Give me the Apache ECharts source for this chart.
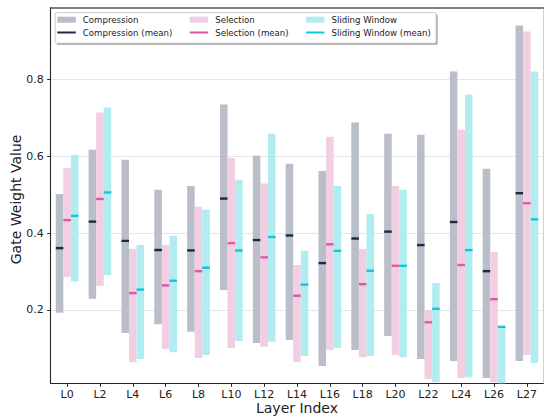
<!DOCTYPE html>
<html>
<head>
<meta charset="utf-8">
<script src="https://cdn.jsdelivr.net/npm/echarts@6/dist/echarts.min.js"></script>
<style>
html,body{margin:0;padding:0;background:#fff;}
#chart{width:545px;height:417px;}
</style>
</head>
<body>
<div id="chart"></div>
<script>
// ---- data ----
const layers = ['L0','L2','L4','L6','L8','L10','L12','L14','L16','L18','L20','L22','L24','L26','L27'];

const compMin  = [0.193,0.229,0.140,0.163,0.143,0.252,0.114,0.122,0.054,0.096,0.132,0.072,0.067,0.023,0.067];
const compMax  = [0.502,0.617,0.591,0.513,0.523,0.735,0.602,0.581,0.562,0.688,0.659,0.656,0.821,0.568,0.941];
const compMean = [0.361,0.430,0.380,0.356,0.355,0.490,0.382,0.394,0.322,0.386,0.404,0.369,0.429,0.301,0.504];

const selMin  = [0.286,0.263,0.064,0.098,0.075,0.101,0.104,0.064,0.096,0.077,0.083,0.020,0.023,0.012,0.083];
const selMax  = [0.570,0.714,0.359,0.369,0.469,0.596,0.529,0.317,0.651,0.359,0.523,0.200,0.669,0.351,0.925];
const selMean = [0.434,0.489,0.244,0.264,0.301,0.374,0.337,0.237,0.371,0.267,0.315,0.168,0.317,0.228,0.478];

const winMin  = [0.274,0.291,0.072,0.090,0.083,0.119,0.117,0.080,0.101,0.080,0.077,0.012,0.025,0.009,0.062];
const winMax  = [0.604,0.727,0.369,0.393,0.461,0.539,0.659,0.354,0.523,0.450,0.513,0.270,0.761,0.156,0.821];
const winMean = [0.445,0.506,0.253,0.276,0.310,0.355,0.390,0.266,0.354,0.302,0.315,0.203,0.356,0.156,0.436];

const yTicks = [0.2, 0.4, 0.6, 0.8];

// ---- styling ----
const FONT = 'DejaVu Sans';
const colors = {
  comp: '#babec8', compMean: '#1c2a45',
  sel: '#f2cee3', selMean: '#d95ba6',
  win: '#b1ecf0', winMean: '#18c4d9'
};

// axis range like matplotlib autoscale (sticky bar bottoms, 5% top margin)
const allLow = compMin.concat(selMin, winMin);
const allHigh = compMax.concat(selMax, winMax);
const yLo = Math.min.apply(null, allLow);
const yHiData = Math.max.apply(null, allHigh);
const yHi = yHiData + 0.05 * (yHiData - yLo);

const BAR_FRAC = 0.23;

function rangeRender(offsetIdx, color) {
  return function (params, api) {
    const i = api.value(0);
    const lo = api.coord([i, api.value(1)]);
    const hi = api.coord([i, api.value(2)]);
    const band = api.size([1, 0])[0];
    const w = band * BAR_FRAC;
    const cx = lo[0] + offsetIdx * w;
    return {
      type: 'rect',
      shape: { x: cx - w / 2, y: hi[1], width: w, height: lo[1] - hi[1] },
      style: { fill: color }
    };
  };
}
function meanRender(offsetIdx, color) {
  return function (params, api) {
    const i = api.value(0);
    const p = api.coord([i, api.value(1)]);
    const band = api.size([1, 0])[0];
    const w = band * BAR_FRAC;
    const cx = p[0] + offsetIdx * w;
    return {
      type: 'rect',
      shape: { x: cx - w / 2, y: p[1] - 1.2, width: w, height: 2.4 },
      style: { fill: color }
    };
  };
}

function rangeData(mins, maxs) { return layers.map((l, i) => [i, mins[i], maxs[i]]); }
function meanData(means) { return layers.map((l, i) => [i, means[i]]); }

const rectIcon = 'path://M0,0 L18.5,0 L18.5,6 L0,6 Z M20.5,6';
const lineIcon = 'path://M0,2 L18.5,2 L18.5,4 L0,4 Z M0,0 M20.5,6';

function legendItem(name, icon, left, top) {
  return {
    show: true, data: [{ name: name, icon: icon }],
    left: left, top: top, padding: 0, itemWidth: 20.5, itemHeight: 6,
    symbolKeepAspect: true, selectedMode: false,
    textStyle: { fontFamily: FONT, fontSize: 8.6, color: '#222', lineHeight: 11 },
    z: 20
  };
}

const rowTop1 = 14.2, rowTop2 = 27.0;
const col1 = 57.3, col2 = 189.7, col3 = 306;

const option = {
  animation: false,
  backgroundColor: '#fff',
  textStyle: { fontFamily: FONT },
  grid: { left: 50.7, right: 1.7, top: 7.5, bottom: 33.7, containLabel: false, outerBoundsMode: 'none' },
  legend: [
    legendItem('Compression', rectIcon, col1, rowTop1),
    legendItem('Compression (mean)', lineIcon, col1, rowTop2),
    legendItem('Selection', rectIcon, col2, rowTop1),
    legendItem('Selection (mean)', lineIcon, col2, rowTop2),
    legendItem('Sliding Window', rectIcon, col3, rowTop1),
    legendItem('Sliding Window (mean)', lineIcon, col3, rowTop2)
  ],
  graphic: [
    { type: 'rect', left: 56.6, top: 14.2, shape: { width: 381, height: 30.5, r: 1.5 }, style: { fill: '#9a9a9a' }, z: 10, silent: true },
    { type: 'rect', left: 54.6, top: 12.2, shape: { width: 381, height: 30.5, r: 1.5 }, style: { fill: '#ffffff', stroke: '#c8c8c8', lineWidth: 1 }, z: 11, silent: true }
  ],
  xAxis: [{
    type: 'category',
    data: layers,
    boundaryGap: true,
    name: 'Layer Index',
    nameLocation: 'middle',
    nameGap: 18,
    nameMoveOverlap: false,
    nameTextStyle: { fontFamily: FONT, fontSize: 14, color: '#222' },
    axisLine: { show: true, onZero: false, lineStyle: { color: '#262626', width: 1.1 } },
    axisTick: { show: true, alignWithLabel: true, length: 3.5, lineStyle: { color: '#262626', width: 1 } },
    axisLabel: { fontFamily: FONT, fontSize: 11, color: '#222', margin: 6, interval: 0 },
    splitLine: { show: false }
  }, {
    type: 'category',
    data: layers,
    position: 'top',
    axisLine: { show: true, lineStyle: { color: '#555', width: 1.5 } },
    axisTick: { show: false }, axisLabel: { show: false }, splitLine: { show: false }
  }],
  yAxis: [{
    type: 'value',
    min: yLo,
    max: yHi,
    name: 'Gate Weight Value',
    nameLocation: 'middle',
    nameGap: 28,
    nameMoveOverlap: false,
    nameTextStyle: { fontFamily: FONT, fontSize: 14, color: '#222', padding: [0, 8, 0, 0] },
    axisLine: { show: true, onZero: false, lineStyle: { color: '#262626', width: 1.1 } },
    axisTick: { show: true, length: 3.5, customValues: yTicks, lineStyle: { color: '#262626', width: 1 } },
    axisLabel: { fontFamily: FONT, fontSize: 11, color: '#222', margin: 7, customValues: yTicks,
      formatter: v => v.toFixed(1) },
    splitLine: { show: true, lineStyle: { color: '#e6e6e6', width: 1 } }
  }, {
    type: 'value',
    min: yLo, max: yHi,
    position: 'right',
    axisLine: { show: true, lineStyle: { color: '#d0d0d0', width: 1 } },
    axisTick: { show: false }, axisLabel: { show: false }, splitLine: { show: false }
  }],
  series: [
    { name: 'Compression', type: 'custom', renderItem: rangeRender(-1, colors.comp), itemStyle: { color: colors.comp }, data: rangeData(compMin, compMax), encode: { x: 0, y: [1, 2] }, z: 2 },
    { name: 'Selection', type: 'custom', renderItem: rangeRender(0, colors.sel), itemStyle: { color: colors.sel }, data: rangeData(selMin, selMax), encode: { x: 0, y: [1, 2] }, z: 2 },
    { name: 'Sliding Window', type: 'custom', renderItem: rangeRender(1, colors.win), itemStyle: { color: colors.win }, data: rangeData(winMin, winMax), encode: { x: 0, y: [1, 2] }, z: 2 },
    { name: 'Compression (mean)', type: 'custom', renderItem: meanRender(-1, colors.compMean), itemStyle: { color: colors.compMean }, data: meanData(compMean), encode: { x: 0, y: 1 }, z: 3 },
    { name: 'Selection (mean)', type: 'custom', renderItem: meanRender(0, colors.selMean), itemStyle: { color: colors.selMean }, data: meanData(selMean), encode: { x: 0, y: 1 }, z: 3 },
    { name: 'Sliding Window (mean)', type: 'custom', renderItem: meanRender(1, colors.winMean), itemStyle: { color: colors.winMean }, data: meanData(winMean), encode: { x: 0, y: 1 }, z: 3 }
  ]
};

const chart = echarts.init(document.getElementById('chart'), null, { renderer: 'svg', width: 545, height: 417 });
chart.setOption(option);
</script>
</body>
</html>
